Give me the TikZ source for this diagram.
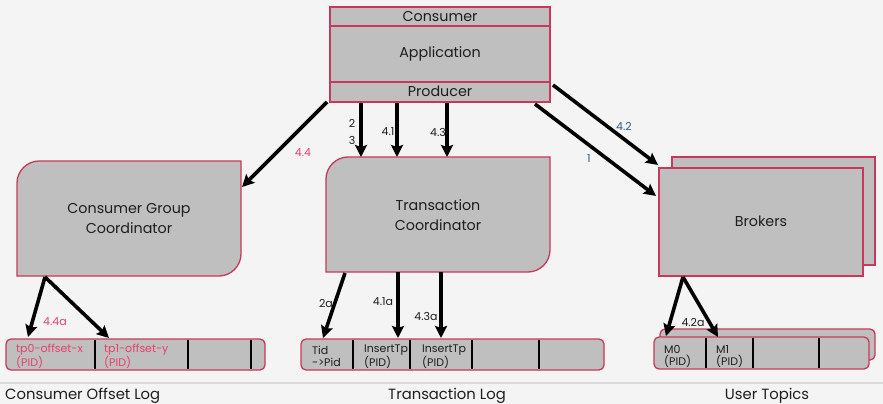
\documentclass[tikz,border=0pt]{standalone}
\usepackage{fontspec}
\setmainfont{Poppins}
\usetikzlibrary{arrows.meta}
\definecolor{bg}{HTML}{F4F4F4}
\definecolor{boxfill}{HTML}{BFBFBF}
\definecolor{edge}{HTML}{C9385B}
\definecolor{ink}{HTML}{1E1E1E}
\definecolor{hot}{HTML}{E8406A}
\definecolor{navy}{HTML}{2F5A8C}
\definecolor{rulegray}{HTML}{DADADA}

\begin{document}
\begin{tikzpicture}[x=1pt,y=-1pt,
  shapebox/.style={fill=boxfill,draw=edge,line width=1.3pt},
  logbox/.style={fill=boxfill,draw=edge,line width=1.3pt,rounded corners=5pt},
  divider/.style={line width=2pt,black},
  flow/.style={line width=3.6pt,-{Stealth[length=12pt,width=12pt,inset=2pt]}},
  title/.style={font=\fontsize{14.3}{20}\selectfont,text=ink,align=center,inner sep=0pt},
  numlabel/.style={font=\fontsize{11}{12}\selectfont,text=ink,inner sep=0pt},
  cell/.style={font=\fontsize{11}{12.5}\selectfont,text=ink,align=left,anchor=west,inner sep=0pt},
  caption/.style={font=\fontsize{14.8}{16}\selectfont,text=ink,inner sep=0pt}
]
% canvas
\fill[bg] (0,0) rectangle (883,404);
\useasboundingbox (0,0) rectangle (883,404);
\draw[rulegray,line width=1.6pt] (0,383) -- (883,383);

% application with consumer / producer strips
\draw[shapebox] (330,7) rectangle (550,102);
\draw[edge,line width=1.3pt] (330,26) -- (550,26) (330,82) -- (550,82);
\node[title] (consumer) at (440,16.5) {Consumer};
\node[title] (application) at (440,54) {Application};
\node[title] (producer) at (440,91.5) {Producer};

% consumer group coordinator
\draw[shapebox] (17,276) -- (17,183) .. controls (17,171) and (27,161) .. (39,161)
  -- (241,161) -- (241,254) .. controls (241,266) and (231,276) .. (219,276) -- cycle;
\node[title] (cgc) at (129,219) {Consumer Group\\Coordinator};

% transaction coordinator
\draw[shapebox] (326,272) -- (326,179) .. controls (326,167) and (336,157) .. (348,157)
  -- (550,157) -- (550,250) .. controls (550,262) and (540,272) .. (528,272) -- cycle;
\node[title] (tc) at (438,215) {Transaction\\Coordinator};

% brokers (stacked)
\draw[shapebox] (672,157) rectangle (875,265);
\draw[shapebox] (659,168) rectangle (863,276);
\node[title] (brokers) at (761,221) {Brokers};

% consumer offset log
\draw[logbox] (6,339) rectangle (265,370);
\draw[divider] (95,340) -- (95,369) (188,340) -- (188,369) (251,340) -- (251,369);
\node[cell,text=hot] (tp0) at (16,356.5) {tp0-offset-x\\(PID)};
\node[cell,text=hot] (tp1) at (104,356.5) {tp1-offset-y\\(PID)};

% transaction log
\draw[logbox] (301,339) rectangle (604,370);
\draw[divider] (353,340) -- (353,369) (410,340) -- (410,369) (472,340) -- (472,369) (539,340) -- (539,369);
\node[cell] (tid) at (312,356.5) {Tid\\->Pid};
\node[cell] (ins1) at (364,356.5) {InsertTp\\(PID)};
\node[cell] (ins2) at (422,356.5) {InsertTp\\(PID)};

% user topics (stacked)
\draw[logbox] (660,329) rectangle (875,360);
\draw[logbox] (654,337) rectangle (869,369);
\draw[divider] (706,338) -- (706,368) (753,338) -- (753,368) (819,338) -- (819,368);
\node[cell] (m0) at (664,356.5) {M0\\(PID)};
\node[cell] (m1) at (716,356.5) {M1\\(PID)};

% captions
\node[caption,anchor=west] (capoffset) at (5,396) {Consumer Offset Log};
\node[caption] (captx) at (447,396) {Transaction Log};
\node[caption] (captopics) at (767,396) {User Topics};

% connector end points
\coordinate (p44s) at (327,102);   \coordinate (p44e) at (242,187);
\coordinate (p23s) at (361,103);   \coordinate (p23e) at (361,157);
\coordinate (p41s) at (397,103);   \coordinate (p41e) at (397,157);
\coordinate (p43s) at (447,103);   \coordinate (p43e) at (447,157);
\coordinate (p42s) at (553,85);    \coordinate (p42e) at (658,165);
\coordinate (p1s)  at (535,104);   \coordinate (p1e)  at (656,196);
\coordinate (p44as) at (45,277);   \coordinate (p44al) at (28,337);  \coordinate (p44ar) at (109,338);
\coordinate (p2as) at (345,273);   \coordinate (p2ae) at (323,338);
\coordinate (p41as) at (398,272);  \coordinate (p41ae) at (398,338);
\coordinate (p43as) at (441,272);  \coordinate (p43ae) at (441,338);
\coordinate (p42as) at (683,277);  \coordinate (p42al) at (666,336); \coordinate (p42ar) at (718,337);

% connectors
\draw[flow] (p44s) -- (p44e);
\draw[flow] (p23s) -- (p23e);
\draw[flow] (p41s) -- (p41e);
\draw[flow] (p43s) -- (p43e);
\draw[flow] (p42s) -- (p42e);
\draw[flow] (p1s) -- (p1e);
\draw[flow] (p44as) -- (p44al);
\draw[flow] (p44as) -- (p44ar);
\draw[flow] (p2as) -- (p2ae);
\draw[flow] (p41as) -- (p41ae);
\draw[flow] (p43as) -- (p43ae);
\draw[flow] (p42as) -- (p42al);
\draw[flow] (p42as) -- (p42ar);

% step numbers
\node[numlabel,text=hot] (n44) at (303,153) {4.4};
\node[numlabel] (n2) at (352,123) {2};
\node[numlabel] (n3) at (352,140) {3};
\node[numlabel] (n41) at (388,132) {4.1};
\node[numlabel] (n43) at (438,132) {4.3};
\node[numlabel,text=navy] (n42) at (624,126) {4.2};
\node[numlabel,text=navy] (n1) at (589,159) {1};
\node[numlabel,text=hot] (n44a) at (55,322) {4.4a};
\node[numlabel] (n2a) at (326,303) {2a};
\node[numlabel] (n41a) at (383,302) {4.1a};
\node[numlabel] (n43a) at (426,316) {4.3a};
\node[numlabel] (n42a) at (693,322) {4.2a};
\end{tikzpicture}
\end{document}
